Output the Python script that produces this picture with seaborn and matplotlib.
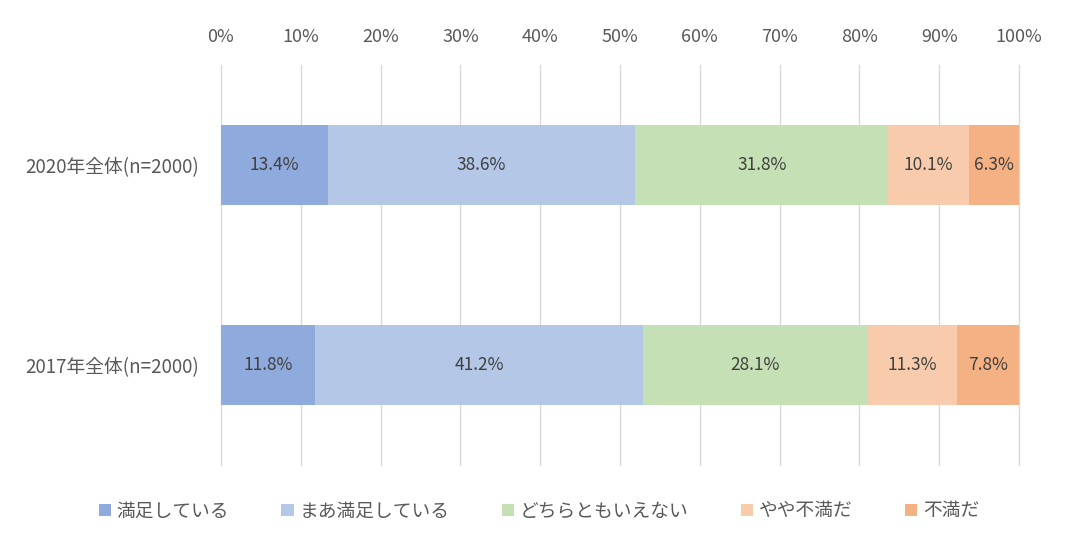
import matplotlib
matplotlib.use('Agg')
import matplotlib.pyplot as plt
import seaborn as sns
import pandas as pd
import numpy as np

# data
groups = ['2020年全体(n=2000)', '2017年全体(n=2000)']
answers = ['満足している', 'まあ満足している', 'どちらともいえない', 'やや不満だ', '不満だ']
vals_2020 = [13.4, 38.6, 31.8, 10.1, 6.3]
vals_2017 = [11.8, 41.2, 28.1, 11.3, 7.8]
colors = ['#8FAADC', '#B4C7E7', '#C5E0B4', '#F8CBAD', '#F4B183']

sns.set_theme(style='white')
plt.rcParams['font.family'] = ['Noto Sans CJK JP', 'DejaVu Sans']

raw = pd.DataFrame([vals_2020, vals_2017], index=groups, columns=answers)
# 100% stacked: normalise each row
df = raw.div(raw.sum(axis=1), axis=0) * 100
cum = df.cumsum(axis=1)

fig = plt.figure(figsize=(10.67, 5.35), dpi=100)
ax = fig.add_axes([0.2071, 0.1308, 0.748, 0.7477])

# draw cumulative totals from longest to shortest so earlier segments sit on top
for i in range(len(answers) - 1, -1, -1):
    col = answers[i]
    d = pd.DataFrame({'group': groups, 'value': cum[col].values})
    sns.barplot(data=d, x='value', y='group', orient='h', color=colors[i],
                width=0.4, linewidth=0, saturation=1, ax=ax, label=col, zorder=2)

# data labels (the original rounded numbers)
for gi, g in enumerate(groups):
    left = 0
    for col in answers:
        w = df.loc[g, col]
        ax.text(left + w / 2, gi, f'{raw.loc[g, col]:.1f}%',
                ha='center', va='center', fontsize=12.5, color='#404040', zorder=3)
        left += w

ax.set_xlim(0, 100)
ax.set_ylim(1.5, -0.5)
ax.set_xticks(np.arange(0, 101, 10))
ax.set_xticklabels([f'{t}%' for t in range(0, 101, 10)])
ax.xaxis.tick_top()
ax.tick_params(axis='x', length=0, pad=14, labelsize=13, labelcolor='#595959')
ax.tick_params(axis='y', length=0, pad=16, labelsize=13.5, labelcolor='#595959')
ax.set_xlabel('')
ax.set_ylabel('')
ax.grid(axis='x', color='#D9D9D9', linewidth=1, zorder=0)
for gl in ax.get_xgridlines():
    gl.set_clip_on(False)
ax.set_axisbelow(True)
for s in ax.spines.values():
    s.set_visible(False)

# legend in original order
handles, labels = ax.get_legend_handles_labels()
order = [labels.index(a) for a in answers]
ax.legend([handles[i] for i in order], answers, loc='center',
          bbox_to_anchor=(0.505, 0.045), bbox_transform=fig.transFigure,
          ncol=5, frameon=False, fontsize=13.5, handlelength=0.65, handleheight=0.65,
          handletextpad=0.3, columnspacing=2.8, labelcolor='#595959')

fig.savefig('out.png', dpi=100)
